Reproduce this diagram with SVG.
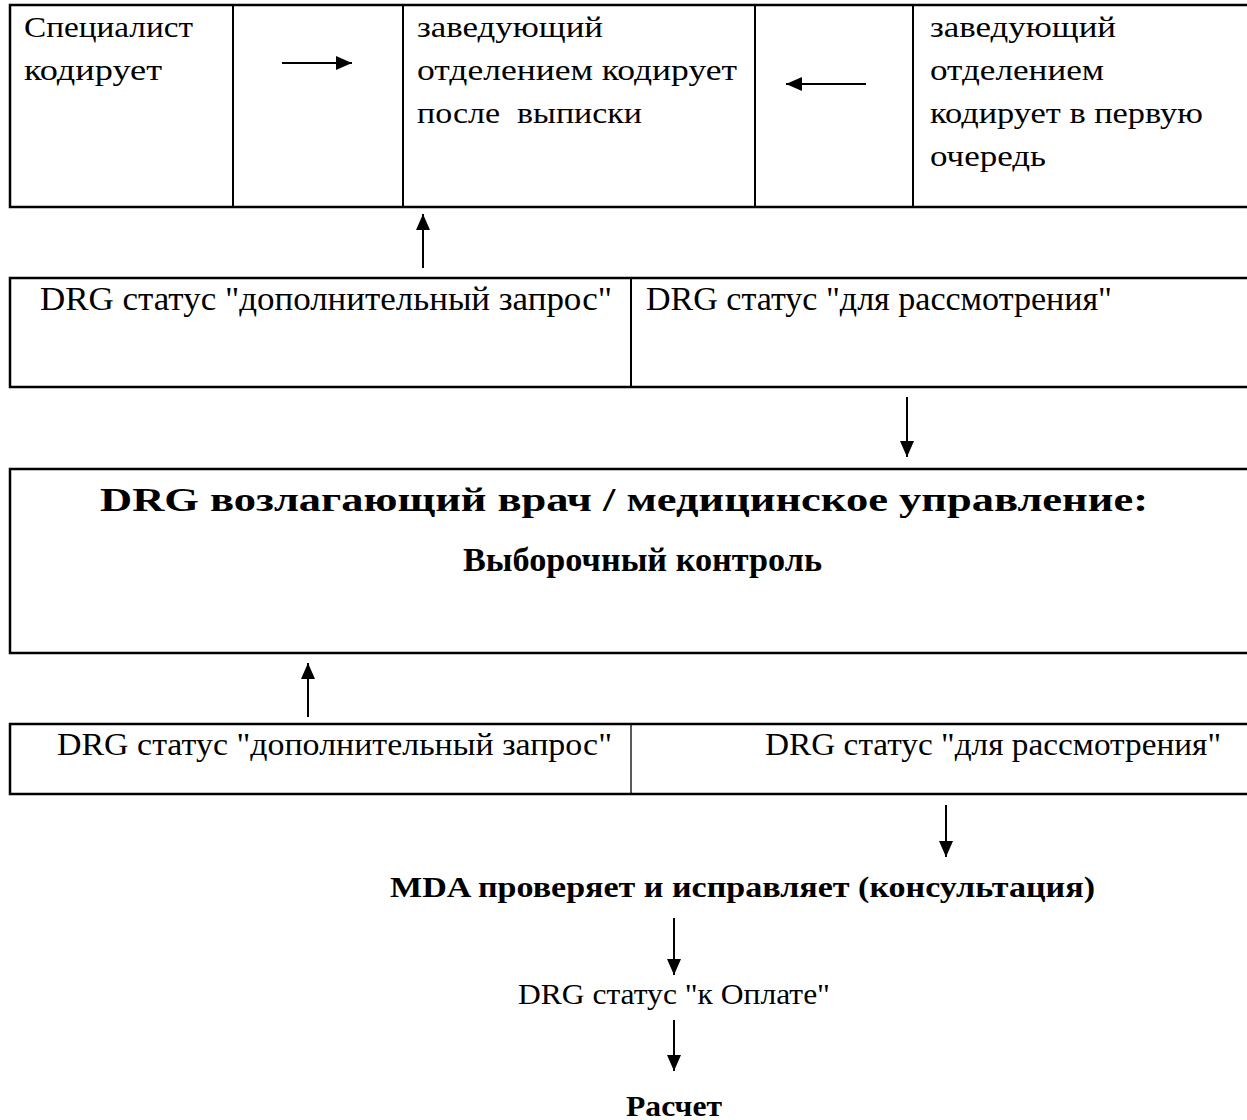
<svg xmlns="http://www.w3.org/2000/svg" width="1247" height="1120" viewBox="0 0 1247 1120">
<defs>
<marker id="ahb" viewBox="0 0 16 14" refX="16" refY="7" markerWidth="16" markerHeight="14" markerUnits="userSpaceOnUse" orient="auto"><path d="M0,0 L16,7 L0,14 z" fill="#000"/></marker>
</defs>
<style>
text{font-family:"Liberation Serif","DejaVu Serif",serif;fill:#000}
.t1{font-size:30px}
.t2{font-size:33px}
.t4{font-size:32px}
.t5{font-size:30px}
.b{font-weight:bold}
.box{fill:none;stroke:#000;stroke-width:2.5}
.div{stroke:#000;stroke-width:2}
.thin{stroke:#000;stroke-width:1.3}
.con{stroke:#000;stroke-width:2;fill:none;marker-end:url(#ahb)}
</style>
<rect width="1247" height="1120" fill="#fff"/>
<g id="row1">
<rect class="box" x="10" y="5" width="1240" height="202"/>
<line class="div" x1="233" y1="5" x2="233" y2="207"/>
<line class="div" x1="403" y1="5" x2="403" y2="207"/>
<line class="div" x1="755" y1="5" x2="755" y2="207"/>
<line class="div" x1="913" y1="5" x2="913" y2="207"/>
</g>
<g id="n-specialist" class="t1"><text x="24" y="37" textLength="169" lengthAdjust="spacingAndGlyphs">Специалист</text><text x="24" y="80" textLength="138" lengthAdjust="spacingAndGlyphs">кодирует</text></g>
<g id="n-head-after" class="t1"><text x="417" y="37" textLength="186" lengthAdjust="spacingAndGlyphs">заведующий</text><text x="417" y="80" textLength="320" lengthAdjust="spacingAndGlyphs">отделением кодирует</text><text x="417" y="123" textLength="225" lengthAdjust="spacingAndGlyphs" xml:space="preserve">после  выписки</text></g>
<g id="n-head-first" class="t1"><text x="930" y="37" textLength="186" lengthAdjust="spacingAndGlyphs">заведующий</text><text x="930" y="80" textLength="174" lengthAdjust="spacingAndGlyphs">отделением</text><text x="930" y="123" textLength="273" lengthAdjust="spacingAndGlyphs">кодирует в первую</text><text x="930" y="166" textLength="116" lengthAdjust="spacingAndGlyphs">очередь</text></g>
<g id="row2" class="t2">
<rect class="box" x="10" y="278" width="1240" height="109"/>
<line class="div" x1="631" y1="278" x2="631" y2="387"/>
<text x="40" y="310" textLength="572" lengthAdjust="spacingAndGlyphs">DRG статус "дополнительный запрос"</text>
<text x="646" y="310" textLength="466" lengthAdjust="spacingAndGlyphs">DRG статус "для рассмотрения"</text>
</g>
<g id="n-control" class="t2">
<rect class="box" x="10" y="469" width="1240" height="184"/>
<text class="b" x="100" y="511" textLength="1048" lengthAdjust="spacingAndGlyphs">DRG возлагающий врач / медицинское управление:</text>
<text class="b" x="463" y="571" textLength="359" lengthAdjust="spacingAndGlyphs">Выборочный контроль</text>
</g>
<g id="row4" class="t4">
<rect class="box" x="10" y="724" width="1240" height="70"/>
<line class="thin" x1="631" y1="724" x2="631" y2="794"/>
<text x="57" y="755" textLength="555" lengthAdjust="spacingAndGlyphs">DRG статус "дополнительный запрос"</text>
<text x="765" y="755" textLength="456" lengthAdjust="spacingAndGlyphs">DRG статус "для рассмотрения"</text>
</g>
<g id="n-mda" class="t5"><text class="b" x="390" y="897" textLength="705" lengthAdjust="spacingAndGlyphs">MDA проверяет и исправляет (консультация)</text></g>
<g id="n-pay" class="t5"><text x="518" y="1004" textLength="312" lengthAdjust="spacingAndGlyphs">DRG статус "к Оплате"</text></g>
<g id="n-calc" class="t5"><text class="b" x="626" y="1116" textLength="96" lengthAdjust="spacingAndGlyphs">Расчет</text></g>
<g id="connectors">
<line class="con" x1="282" y1="63" x2="352" y2="63"/>
<line class="con" x1="866" y1="84" x2="786" y2="84"/>
<line class="con" x1="423" y1="268" x2="423" y2="214"/>
<line class="con" x1="907" y1="397" x2="907" y2="457"/>
<line class="con" x1="308" y1="717" x2="308" y2="663"/>
<line class="con" x1="946" y1="805" x2="946" y2="857"/>
<line class="con" x1="674" y1="918" x2="674" y2="975"/>
<line class="con" x1="674" y1="1020" x2="674" y2="1071"/>
</g>
</svg>
